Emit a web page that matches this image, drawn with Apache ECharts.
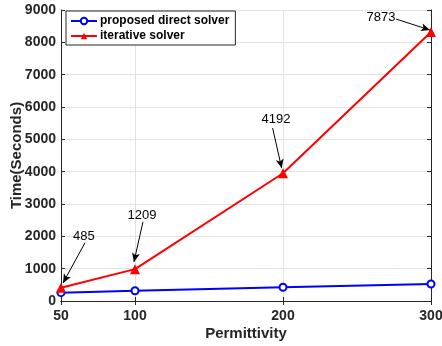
<!DOCTYPE html>
<html>
<head>
<meta charset="utf-8">
<script src="https://cdn.jsdelivr.net/npm/echarts@6/dist/echarts.min.js"></script>
<style>
html, body { margin: 0; padding: 0; background: #fff; }
#chart { width: 442px; height: 346px; }
</style>
</head>
<body>
<div id="chart"></div>
<script>
// data
const permittivity = [50, 100, 200, 300];
const directTimes = [257, 318, 424, 526];
const iterativeTimes = [410, 985, 3950, 8320];
const xTicks = [50, 100, 200, 300];
const annotationTexts = ['485', '1209', '4192', '7873'];
// arrow tails / heads and text anchors in data units
const arrowFrom = [[66.2, 1800], [105.4, 2450], [193, 5350], [276.4, 8720]];
const arrowTo = [[51.4, 560], [99.3, 1210], [199.1, 4110], [299.3, 8380]];
const textAt = [[65.5, 2010], [104.7, 2660], [195.3, 5620], [266.2, 8780]];

const fontFam = '"Liberation Sans", Arial, Helvetica, sans-serif';
const axisColor = '#262626';

const arrowLines = arrowFrom.map((p, i) => [
    { coord: p },
    { coord: arrowTo[i] }
]);
const arrowTexts = textAt.map((p, i) => ({
    coord: p,
    value: annotationTexts[i]
}));

let option = {
    animation: false,
    backgroundColor: '#fff',
    textStyle: { fontFamily: fontFam },
    grid: { left: 61, right: 11, top: 10, bottom: 45, outerBoundsMode: 'none', containLabel: false },
    legend: {
        left: 66,
        top: 11,
        orient: 'vertical',
        itemGap: 3,
        itemWidth: 26,
        itemHeight: 8,
        padding: [4, 6, 3, 4],
        borderColor: '#262626',
        borderWidth: 1,
        backgroundColor: '#fff',
        textStyle: {
            fontFamily: fontFam,
            fontWeight: 'bold',
            fontSize: 12,
            color: '#000',
            padding: [0, 0, 0, -2]
        },
        data: ['proposed direct solver', 'iterative solver']
    },
    xAxis: [
        {
            type: 'value',
            min: 50,
            max: 300,
            interval: 50,
            name: 'Permittivity',
            nameLocation: 'middle',
            nameGap: 25,
            nameMoveOverlap: false,
            nameTextStyle: { fontSize: 15, fontWeight: 'bold', color: '#262626' },
            axisLine: { lineStyle: { color: axisColor, width: 1 } },
            axisTick: { inside: true, length: 4, customValues: xTicks, lineStyle: { color: axisColor } },
            axisLabel: { customValues: xTicks, fontSize: 14, fontWeight: 'bold', color: '#262626', margin: 8 },
            splitLine: { show: true, lineStyle: { color: '#e3e3e3', width: 1 } }
        },
        {
            type: 'value',
            position: 'top',
            min: 50,
            max: 300,
            interval: 50,
            axisLine: { lineStyle: { color: axisColor, width: 1 } },
            axisTick: { inside: true, length: 4, customValues: xTicks, lineStyle: { color: axisColor } },
            axisLabel: { show: false },
            splitLine: { show: false }
        }
    ],
    yAxis: [
        {
            type: 'value',
            min: 0,
            max: 9000,
            interval: 1000,
            name: 'Time(Seconds)',
            nameLocation: 'middle',
            nameGap: 37,
            nameMoveOverlap: false,
            nameTextStyle: { fontSize: 15, fontWeight: 'bold', color: '#262626' },
            axisLine: { show: true, lineStyle: { color: axisColor, width: 1 } },
            axisTick: { show: true, inside: true, length: 4, lineStyle: { color: axisColor } },
            axisLabel: { fontSize: 14, fontWeight: 'bold', color: '#262626', margin: 5, formatter: v => String(v) },
            splitLine: { show: true, lineStyle: { color: '#e3e3e3', width: 1 } }
        },
        {
            type: 'value',
            position: 'right',
            min: 0,
            max: 9000,
            interval: 1000,
            axisLine: { show: true, lineStyle: { color: axisColor, width: 1 } },
            axisTick: { show: true, inside: true, length: 4, lineStyle: { color: axisColor } },
            axisLabel: { show: false },
            splitLine: { show: false }
        }
    ],
    series: [
        {
            name: 'proposed direct solver',
            type: 'line',
            data: permittivity.map((x, i) => [x, directTimes[i]]),
            symbol: 'emptyCircle',
            symbolSize: 7,
            lineStyle: { color: '#0000ff', width: 2 },
            itemStyle: { color: '#0000ff', borderWidth: 2 },
            z: 3
        },
        {
            name: 'iterative solver',
            type: 'line',
            data: permittivity.map((x, i) => [x, iterativeTimes[i]]),
            symbol: 'triangle',
            symbolSize: 10,
            lineStyle: { color: '#ff0000', width: 2 },
            itemStyle: { color: '#ff0000' },
            z: 4,
            markLine: {
                silent: true,
                symbol: ['none', 'arrow'],
                symbolSize: [6, 9],
                lineStyle: { color: '#000', width: 1, type: 'solid' },
                label: { show: false },
                data: arrowLines
            },
            markPoint: {
                silent: true,
                symbol: 'circle',
                symbolSize: 1,
                itemStyle: { color: 'rgba(0,0,0,0)' },
                label: {
                    show: true,
                    position: 'inside',
                    formatter: p => p.value,
                    fontSize: 13,
                    color: '#000',
                    fontFamily: fontFam
                },
                data: arrowTexts
            }
        }
    ]
};

const chartInit = () => {
    let myChart = echarts.init(document.getElementById('chart'));
    option && myChart.setOption(option);
}
chartInit();
</script>
</body>
</html>
